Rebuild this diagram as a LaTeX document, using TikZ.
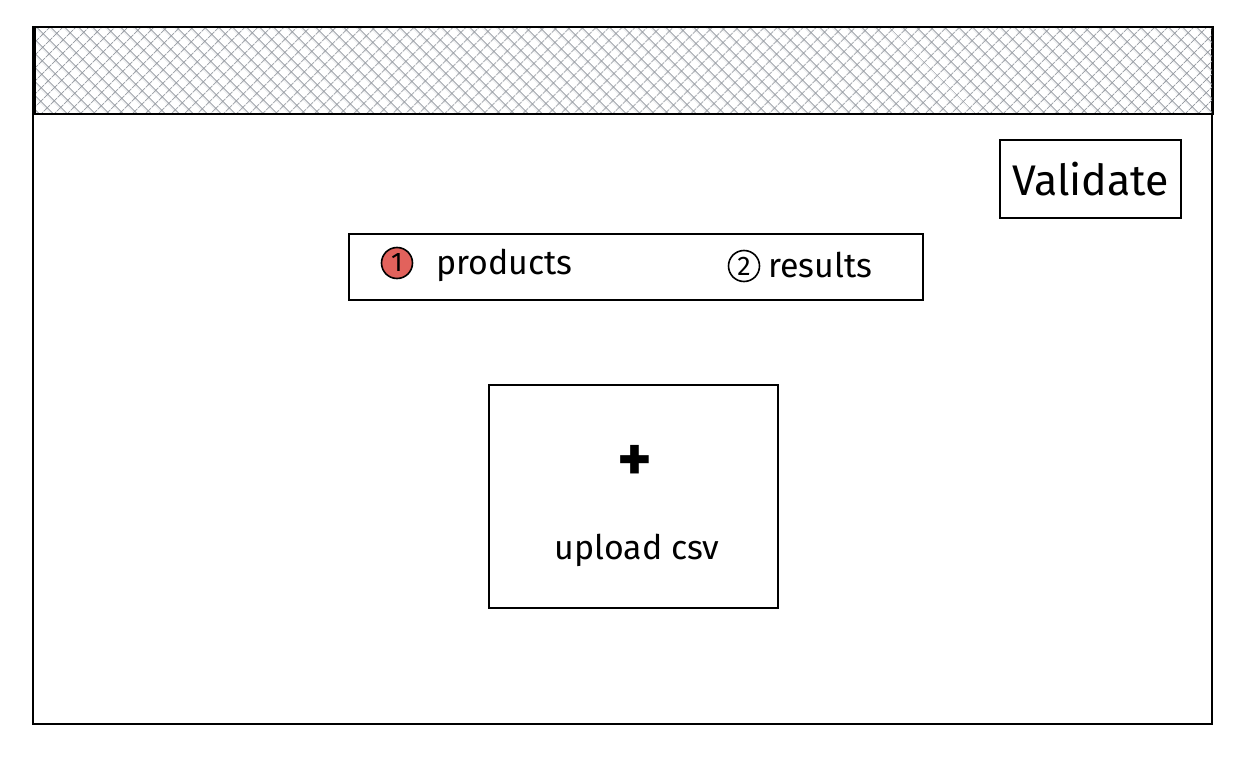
\documentclass[tikz,border=0pt]{standalone}
\usepackage{fontspec}
\setmainfont{Fira Sans}
\usetikzlibrary{patterns.meta}
\definecolor{hatch}{RGB}{150,155,162}
\definecolor{badge}{RGB}{226,98,92}
\begin{document}
\begin{tikzpicture}[x=1bp,y=-1bp,
  box/.style={draw=black, line width=1.5bp, rectangle, inner sep=0},
  txt/.style={font=\fontsize{34}{36}\selectfont, inner sep=0},
  badgestyle/.style={circle, draw=black, line width=1.6bp, minimum size=31bp, inner sep=0, font=\fontsize{27}{27}\selectfont}]
\useasboundingbox (0,0) rectangle (1244,760);
\fill[white] (0,0) rectangle (1244,760);
% outer frame
\node[box, line width=2.5bp, minimum width=1179bp, minimum height=697bp] (frame) at (622.5,375.5) {};
% hatched header
\node[box, line width=2bp, minimum width=1178bp, minimum height=87bp,
      pattern={Hatch[angle=45,distance=9.5bp,line width=1bp]}, pattern color=hatch] (header) at (624,70.5) {};
% validate button
\node[box, minimum width=181bp, minimum height=78bp, font=\fontsize{43}{45}\selectfont] (validate) at (1090.5,179) {Validate};
% tabs
\node[box, minimum width=574bp, minimum height=66bp] (tabs) at (636,267) {};
\node[badgestyle, fill=badge] (b1) at (397,263) {1};
\node[txt, anchor=base west] (products) at (436,274) {products};
\node[badgestyle] (b2) at (744,266) {2};
\node[txt, anchor=base west] (results) at (768,277) {results};
% upload
\node[box, minimum width=289bp, minimum height=223bp] (upload) at (633.5,496.5) {};
\node[inner sep=0, font=\fontsize{66}{66}\selectfont\bfseries] (plus) at (635,463) {+};
\node[txt] (uploadtxt) at (637,550) {upload csv};
\end{tikzpicture}
\end{document}
